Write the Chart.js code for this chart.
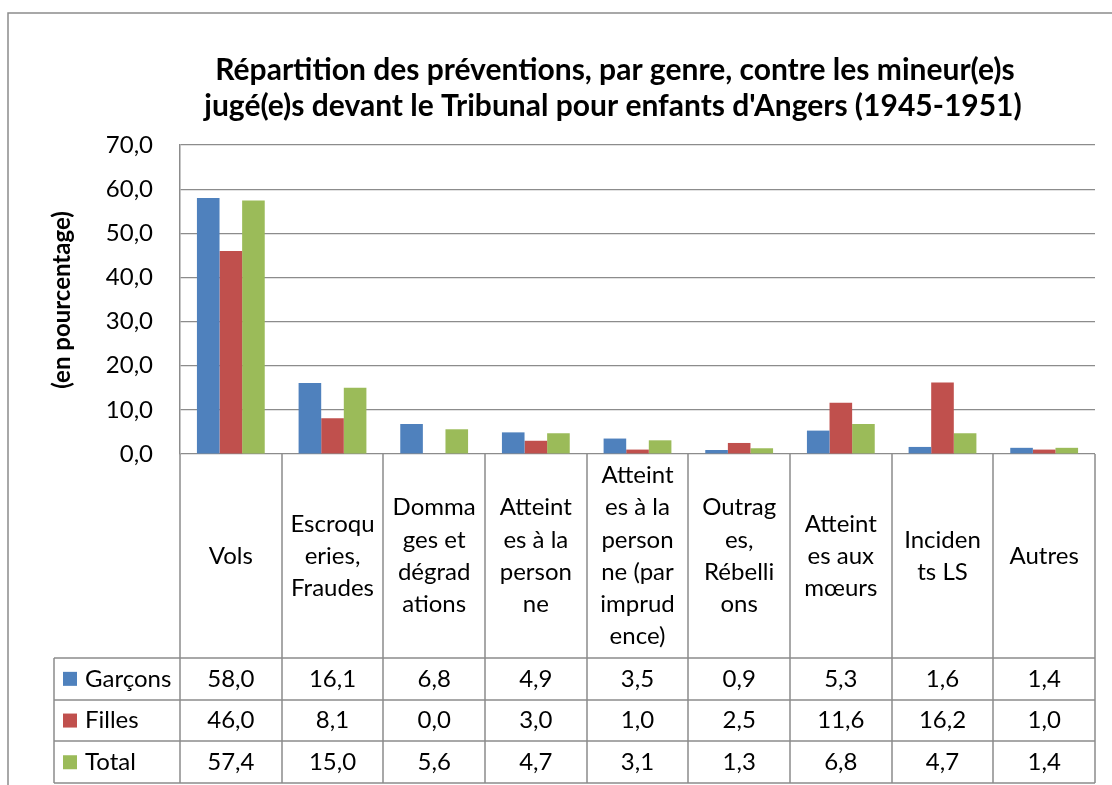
<!DOCTYPE html>
<html>
<head>
<meta charset="utf-8">
<script src="https://cdn.jsdelivr.net/npm/chart.js@4.4.1/dist/chart.umd.min.js"></script>
<style>
  body { margin: 0; background: #fff; }
  #wrap { width: 1112px; height: 785px; }
</style>
</head>
<body>
<div id="wrap"><canvas id="chart" width="1112" height="785"></canvas></div>
<script>
// --- data ---
const categories = [
  ['Vols'],
  ['Escroqu', 'eries,', 'Fraudes'],
  ['Domma', 'ges et', 'dégrad', 'ations'],
  ['Atteint', 'es à la', 'person', 'ne'],
  ['Atteint', 'es à la', 'person', 'ne (par', 'imprud', 'ence)'],
  ['Outrag', 'es,', 'Rébelli', 'ons'],
  ['Atteint', 'es aux', 'mœurs'],
  ['Inciden', 'ts LS'],
  ['Autres']
];
const seriesNames = ['Garçons', 'Filles', 'Total'];
const garcons = [58.0, 16.1, 6.8, 4.9, 3.5, 0.9, 5.3, 1.6, 1.4];
const filles = [46.0, 8.1, 0.0, 3.0, 1.0, 2.5, 11.6, 16.2, 1.0];
const total = [57.4, 15.0, 5.6, 4.7, 3.1, 1.3, 6.8, 4.7, 1.4];
const seriesColors = ['#4F81BD', '#C0504D', '#9BBB59'];
const yMin = 0, yMax = 70, yStep = 10;
const titleLines = [
  'Répartition des préventions, par genre, contre les mineur(e)s',
  "jugé(e)s devant le Tribunal pour enfants d'Angers (1945-1951)"
];
const yTitle = '(en pourcentage)';

const FONT = 'Lato, "Open Sans", sans-serif';
const LINE = '#8c8c8c';
const fmt = v => v.toFixed(1).replace('.', ',');

// Excel style data table + title, drawn under the plot
const tablePlugin = {
  id: 'excelTable',
  afterDraw(chart) {
    const ctx = chart.ctx;
    const area = chart.chartArea;
    const xs = chart.scales.x;
    const colW = (area.right - area.left) / categories.length;
    const catBottom = 658;
    const rowH = 41.7;
    const legendLeft = 54;
    const series = [garcons, filles, total];

    ctx.save();
    // outer chart border
    ctx.strokeStyle = LINE;
    ctx.lineWidth = 1.5;
    ctx.beginPath();
    ctx.moveTo(8, 785); ctx.lineTo(8, 13); ctx.lineTo(1112, 13);
    ctx.stroke();

    // title
    ctx.fillStyle = '#000';
    ctx.font = 'bold 30px ' + FONT;
    ctx.textAlign = 'center';
    ctx.textBaseline = 'middle';
    ctx.fillText(titleLines[0], 615, 70);
    ctx.fillText(titleLines[1], 613, 106);

    // y axis title
    ctx.save();
    ctx.translate(62, 300);
    ctx.rotate(-Math.PI / 2);
    ctx.font = 'bold 24px ' + FONT;
    ctx.fillText(yTitle, 0, 0);
    ctx.restore();

    // table grid lines
    ctx.strokeStyle = LINE;
    ctx.lineWidth = 1.5;
    ctx.beginPath();
    for (let i = 0; i <= categories.length; i++) {
      const x = Math.round(area.left + i * colW);
      ctx.moveTo(x, area.bottom);
      ctx.lineTo(x, catBottom + rowH * 3);
    }
    for (let r = 0; r <= 3; r++) {
      const y = Math.round(catBottom + r * rowH);
      ctx.moveTo(legendLeft, y);
      ctx.lineTo(area.right, y);
    }
    ctx.moveTo(legendLeft, catBottom);
    ctx.lineTo(legendLeft, catBottom + rowH * 3);
    ctx.stroke();

    // category labels
    ctx.font = '24px ' + FONT;
    ctx.fillStyle = '#000';
    const lh = 32.2;
    const midY = (area.bottom + catBottom) / 2;
    categories.forEach((lines, i) => {
      const cx = xs.getPixelForValue(i);
      const y0 = midY - (lines.length - 1) * lh / 2;
      lines.forEach((t, k) => ctx.fillText(t, cx, y0 + k * lh));
    });

    // series rows
    series.forEach((vals, r) => {
      const cy = catBottom + (r + 0.5) * rowH;
      ctx.fillStyle = seriesColors[r];
      ctx.fillRect(63, cy - 7, 14, 14);
      ctx.fillStyle = '#000';
      ctx.textAlign = 'left';
      ctx.fillText(seriesNames[r], 85, cy);
      ctx.textAlign = 'center';
      vals.forEach((v, i) => ctx.fillText(fmt(v), xs.getPixelForValue(i), cy));
    });
    ctx.restore();
  }
};

new Chart(document.getElementById('chart'), {
  type: 'bar',
  data: {
    labels: categories.map(c => c.join(' ')),
    datasets: [
      { label: seriesNames[0], data: garcons, backgroundColor: seriesColors[0] },
      { label: seriesNames[1], data: filles, backgroundColor: seriesColors[1] },
      { label: seriesNames[2], data: total, backgroundColor: seriesColors[2] }
    ]
  },
  options: {
    responsive: false,
    animation: false,
    layout: { padding: { left: 0, top: 145, right: 17, bottom: 0 } },
    datasets: { bar: { categoryPercentage: 0.667, barPercentage: 1.0, borderWidth: 0 } },
    plugins: { legend: { display: false }, title: { display: false }, tooltip: { enabled: false } },
    scales: {
      x: {
        grid: { display: false },
        border: { display: false },
        ticks: { display: false },
        afterFit: s => { s.height = 785 - 454; }
      },
      y: {
        min: yMin,
        max: yMax,
        afterFit: s => { s.width = 180; },
        grid: { color: LINE, lineWidth: 1.2, drawTicks: false },
        border: { display: true, color: LINE, width: 1.5 },
        ticks: {
          stepSize: yStep,
          padding: 27,
          color: '#000',
          font: { family: FONT, size: 24 },
          callback: v => fmt(v)
        }
      }
    }
  },
  plugins: [tablePlugin]
});
</script>
</body>
</html>
